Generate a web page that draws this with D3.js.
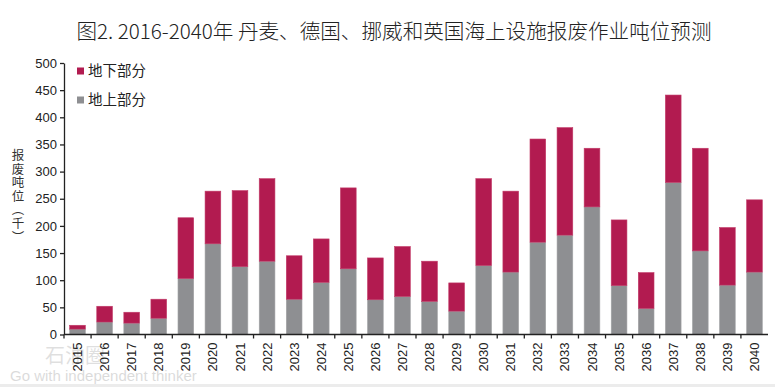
<!DOCTYPE html>
<html>
<head>
<meta charset="utf-8">
<script src="https://cdn.jsdelivr.net/npm/d3@7"></script>
<style>
  body { margin: 0; background: #fff; }
  text { font-family: "Liberation Sans", Arial, sans-serif; }
  .cjk { font-family: "Noto Sans CJK SC", sans-serif; }
</style>
</head>
<body>
<div id="chart"></div>
<script>
// 年份
const years = ["2015","2016","2017","2018","2019","2020","2021","2022","2023","2024","2025","2026","2027",
               "2028","2029","2030","2031","2032","2033","2034","2035","2036","2037","2038","2039","2040"];
// 地上部分（千吨）
const above = [10, 23, 21, 30, 103, 167, 125, 135, 65, 96, 121, 64, 70,
               61, 43, 127, 115, 170, 183, 235, 90, 48, 280, 154, 91, 115];
// 地下部分（千吨）
const below = [7, 29, 20, 35, 112, 97, 140, 152, 80, 80, 149, 77, 92,
               74, 52, 160, 149, 190, 198, 108, 121, 66, 161, 189, 106, 133];
const yTicks = [0, 50, 100, 150, 200, 250, 300, 350, 400, 450, 500];

const width = 775, height = 387;
const margin = {top: 63, right: 7, bottom: 53, left: 64};

const svg = d3.select("#chart").append("svg")
    .attr("width", width)
    .attr("height", height);

const x = d3.scaleBand()
    .domain(years)
    .range([margin.left, width - margin.right])
    .paddingInner(0.42)
    .paddingOuter(0.21);

const y = d3.scaleLinear()
    .domain([0, 500])
    .range([height - margin.bottom + 0.5, margin.top]);

// 堆叠数据
const rows = years.map((yr, i) => ({year: yr, above: above[i], below: below[i]}));
const stack = d3.stack().keys(["above", "below"])(rows);
const colors = {above: "#8e8f92", below: "#b21b50"};
const strokes = {above: "#a3a4a6", below: "#c23a68"};

svg.append("g").selectAll("g")
    .data(stack)
    .join("g")
    .attr("fill", d => colors[d.key])
    .attr("stroke", d => strokes[d.key])
    .attr("stroke-width", 0.6)
  .selectAll("rect")
    .data(d => d)
    .join("rect")
    .attr("x", d => x(d.data.year))
    .attr("width", x.bandwidth())
    .attr("y", d => y(d[1]))
    .attr("height", d => y(d[0]) - y(d[1]));

// Y 轴
const yAxis = svg.append("g")
    .attr("transform", `translate(${margin.left},0)`)
    .call(d3.axisLeft(y).tickValues(yTicks).tickSize(4).tickSizeOuter(0));
yAxis.select(".domain").attr("stroke", "#222").attr("stroke-width", 1.3);
yAxis.selectAll(".tick line").attr("stroke", "#222").attr("stroke-width", 1.3);
yAxis.selectAll(".tick text")
    .attr("x", -7)
    .attr("font-size", 13)
    .attr("fill", "#222")
    .style("font-family", "'Liberation Sans', Arial, sans-serif");

// X 轴（刻度在类别边界）
const x0 = y(0);
const xAxis = svg.append("g");
xAxis.append("line")
    .attr("x1", margin.left).attr("x2", width - margin.right)
    .attr("y1", x0).attr("y2", x0)
    .attr("stroke", "#222").attr("stroke-width", 1.5);
const step = x.step();
xAxis.selectAll("line.tk")
    .data(years)
    .join("line")
    .attr("class", "tk")
    .attr("x1", d => x(d) - step * 0.21).attr("x2", d => x(d) - step * 0.21)
    .attr("y1", x0).attr("y2", x0 + 4)
    .attr("stroke", "#222").attr("stroke-width", 1.3);
xAxis.selectAll("text")
    .data(years)
    .join("text")
    .attr("transform", d => `translate(${x(d) + x.bandwidth() / 2 + 4.5},${x0 + 8}) rotate(-90)`)
    .attr("text-anchor", "end")
    .attr("font-size", 13)
    .attr("fill", "#222")
    .text(d => d);

// 标题
svg.append("text")
    .attr("class", "cjk")
    .attr("x", 394)
    .attr("y", 39)
    .attr("text-anchor", "middle")
    .attr("font-size", 20.6)
    .attr("font-weight", 300)
    .attr("fill", "#222")
    .text("图2. 2016-2040年 丹麦、德国、挪威和英国海上设施报废作业吨位预测");

// Y 轴标题（逐字竖排）
const yTitle = ["报", "废", "吨", "位", "︵", "千", "︶"];
svg.append("g").selectAll("text")
    .data(yTitle)
    .join("text")
    .attr("class", "cjk")
    .attr("x", 18)
    .attr("y", (d, i) => 160 + i * 13.6)
    .attr("text-anchor", "middle")
    .attr("font-size", 12.5)
    .attr("fill", "#333")
    .text(d => d);

// 图例
const legend = [{label: "地下部分", key: "below"}, {label: "地上部分", key: "above"}];
const lg = svg.append("g").selectAll("g")
    .data(legend)
    .join("g")
    .attr("transform", (d, i) => `translate(77,${71 + i * 29})`);
lg.append("rect")
    .attr("x", 0).attr("y", -3.5)
    .attr("width", 7).attr("height", 7)
    .attr("fill", d => colors[d.key]);
lg.append("text")
    .attr("class", "cjk")
    .attr("x", 11)
    .attr("dy", "0.35em")
    .attr("font-size", 14.5)
    .attr("fill", "#222")
    .text(d => d.label);

// 水印
svg.append("text")
    .attr("class", "cjk")
    .attr("x", 45).attr("y", 363)
    .attr("font-size", 20)
    .attr("fill", "#000").attr("opacity", 0.12)
    .text("石油圈");
svg.append("text")
    .attr("x", 10).attr("y", 381)
    .attr("font-size", 15)
    .attr("fill", "#000").attr("opacity", 0.14)
    .text("Go with independent thinker");

// 底边浅灰线
svg.append("rect")
    .attr("x", 0).attr("y", 384)
    .attr("width", width).attr("height", 3)
    .attr("fill", "#ececec");
</script>
</body>
</html>
